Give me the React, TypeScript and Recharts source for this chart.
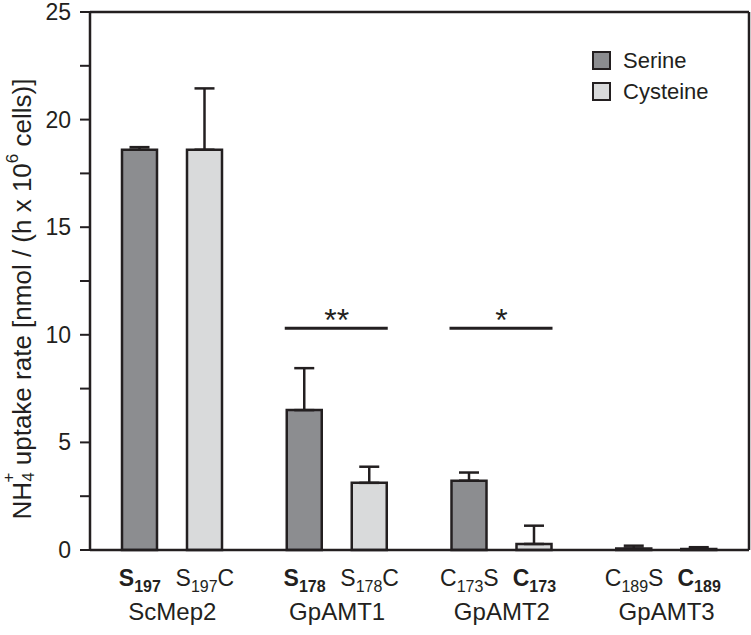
import { BarChart, Bar, XAxis, YAxis, ErrorBar, Legend, LabelList } from "recharts";

const groups = ["ScMep2", "GpAMT1", "GpAMT2", "GpAMT3"];
const serine = [18.6, 6.5, 3.22, 0.07];
const serineErr = [0.12, 1.95, 0.38, 0.13];
const cysteine = [18.6, 3.12, 0.28, 0.05];
const cysteineErr = [2.85, 0.75, 0.85, 0.08];
// significance bars between the two mutants of a group
const sigLevel = [null, 10.3, 10.3, null];
const sigStars = ["", "**", "*", ""];
const yTicks = [0, 2.5, 5, 7.5, 10, 12.5, 15, 17.5, 20, 22.5, 25];

const serineTick = [
  { main: "S", sub: "197", tail: "", bold: true },
  { main: "S", sub: "178", tail: "", bold: true },
  { main: "C", sub: "173", tail: "S", bold: false },
  { main: "C", sub: "189", tail: "S", bold: false },
];
const cysteineTick = [
  { main: "S", sub: "197", tail: "C", bold: false },
  { main: "S", sub: "178", tail: "C", bold: false },
  { main: "C", sub: "173", tail: "", bold: true },
  { main: "C", sub: "189", tail: "", bold: true },
];

const FONT = "'Liberation Sans', Arial, Helvetica, sans-serif";
const INK = "#231f20";
const SERINE_FILL = "#8c8d90";
const CYSTEINE_FILL = "#d9dadb";
const BAR_SIZE = 35;
const BAR_GAP = 30;

const data = groups.map((g, i) => ({
  group: g,
  serine: serine[i],
  serineErr: [0, serineErr[i]],
  cysteine: cysteine[i],
  cysteineErr: [0, cysteineErr[i]],
  sig: sigLevel[i],
}));

const SubLabel = ({ x, y, item }: any) => (
  <text x={x} y={y} textAnchor="middle" fontFamily={FONT} fontSize={23} fill={INK} fontWeight={item.bold ? "bold" : "normal"}>
    {item.main}
    <tspan fontSize={16} dy={6}>{item.sub}</tspan>
    <tspan dy={-6}>{item.tail}</tspan>
  </text>
);

const XTick = ({ x, y, payload }: any) => {
  const i = payload.index;
  const off = (BAR_SIZE + BAR_GAP) / 2;
  return (
    <g>
      <SubLabel x={x - off} y={y + 28} item={serineTick[i]} />
      <SubLabel x={x + off} y={y + 28} item={cysteineTick[i]} />
      <text x={x} y={y + 62} textAnchor="middle" fontFamily={FONT} fontSize={24} fill={INK}>
        {payload.value}
      </text>
    </g>
  );
};

const YTick = ({ x, y, payload }: any) => {
  if (payload.value % 5 !== 0) return <g />;
  return (
    <text x={x} y={y} dy={8} textAnchor="end" fontFamily={FONT} fontSize={23} fill={INK}>
      {payload.value}
    </text>
  );
};

const YLabel = () => {
  const cx = 22;
  const cy = 299;
  return (
    <text
      x={cx}
      y={cy}
      transform={`rotate(-90, ${cx}, ${cy})`}
      textAnchor="middle"
      dominantBaseline="central"
      fontFamily={FONT}
      fontSize={26}
      fill={INK}
    >
      NH
      <tspan fontSize={17} dy={6}>4</tspan>
      <tspan fontSize={17} dx={-10} dy={-20}>+</tspan>
      <tspan dy={14}> uptake rate [nmol / (h x 10</tspan>
      <tspan fontSize={17} dy={-10}>6</tspan>
      <tspan dy={10}> cells)]</tspan>
    </text>
  );
};

const SigMark = (props: any) => {
  const { x, y, width, height, index } = props;
  const level = sigLevel[index];
  if (level == null) return null;
  const pxPerUnit = height / serine[index];
  const base = y + height;
  const ly = base - level * pxPerUnit;
  const x2 = x + 2 * width + BAR_GAP;
  return (
    <g>
      <line x1={x - 2} x2={x2 + 1} y1={ly} y2={ly} stroke={INK} strokeWidth={3} />
      <text x={(x + x2) / 2} y={ly + 3} textAnchor="middle" fontFamily={FONT} fontSize={32} fill={INK}>
        {sigStars[index]}
      </text>
    </g>
  );
};

const renderLegend = () => (
  <div style={{ fontFamily: FONT, fontSize: 22, color: INK }}>
    {[
      { name: "Serine", fill: SERINE_FILL },
      { name: "Cysteine", fill: CYSTEINE_FILL },
    ].map((e) => (
      <div key={e.name} style={{ display: "flex", alignItems: "center", height: 31 }}>
        <div style={{ width: 15, height: 15, background: e.fill, border: `2px solid ${INK}`, marginRight: 12 }} />
        <span>{e.name}</span>
      </div>
    ))}
  </div>
);

export default function App() {
  return (
    <div style={{ position: "absolute", left: 0, top: 0, background: "#fff" }}>
      <BarChart
        width={751}
        height={635}
        data={data}
        margin={{ top: 11, right: 1, bottom: 0, left: 0 }}
        barSize={BAR_SIZE}
        barGap={BAR_GAP}
      >
        <XAxis
          dataKey="group"
          height={85}
          axisLine={{ stroke: INK, strokeWidth: 2.5 }}
          tickLine={false}
          tick={<XTick />}
          interval={0}
        />
        <XAxis xAxisId="top" dataKey="group" orientation="top" height={1} axisLine={{ stroke: INK, strokeWidth: 2.5 }} tick={false} tickLine={false} />
        <YAxis
          width={90}
          domain={[0, 25]}
          ticks={yTicks}
          interval={0}
          axisLine={{ stroke: INK, strokeWidth: 2.5 }}
          tickLine={{ stroke: INK, strokeWidth: 2 }}
          tickSize={10}
          tickMargin={9}
          tick={<YTick />}
          label={<YLabel />}
        />
        <YAxis yAxisId="right" orientation="right" width={1} domain={[0, 25]} axisLine={{ stroke: INK, strokeWidth: 2.5 }} tick={false} tickLine={false} />
        <Legend
          content={renderLegend}
          layout="vertical"
          verticalAlign="middle"
          align="center"
          wrapperStyle={{ top: 45, left: 592, width: 140 }}
        />
        <Bar dataKey="serine" name="Serine" fill={SERINE_FILL} stroke={INK} strokeWidth={2.5} isAnimationActive={false}>
          <ErrorBar dataKey="serineErr" width={10} stroke={INK} strokeWidth={2.5} direction="y" />
          <LabelList dataKey="sig" content={<SigMark />} />
        </Bar>
        <Bar dataKey="cysteine" name="Cysteine" fill={CYSTEINE_FILL} stroke={INK} strokeWidth={2.5} isAnimationActive={false}>
          <ErrorBar dataKey="cysteineErr" width={10} stroke={INK} strokeWidth={2.5} direction="y" />
        </Bar>
      </BarChart>
    </div>
  );
}
